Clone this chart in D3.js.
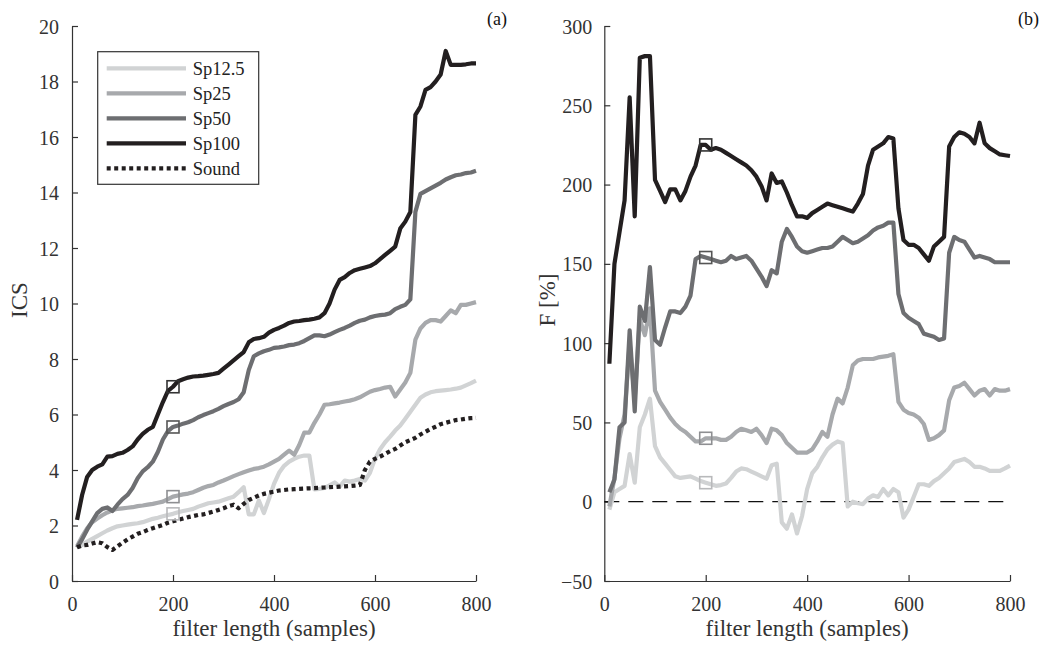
<!DOCTYPE html>
<html><head><meta charset="utf-8">
<script src="https://cdn.jsdelivr.net/npm/d3@7"></script>
<style>body{margin:0;background:#fff}svg{display:block}text{font-family:"Liberation Serif","Times New Roman",serif}</style>
</head><body>
<svg id="chart" width="1047" height="650"></svg>
<script>
const filterLength = [10,20,30,40,50,60,70,80,90,100,110,120,130,140,150,160,170,180,190,200,210,220,230,240,250,260,270,280,290,300,310,320,330,340,350,360,370,380,390,400,410,420,430,440,450,460,470,480,490,500,510,520,530,540,550,560,570,580,590,600,610,620,630,640,650,660,670,680,690,700,710,720,730,740,750,760,770,780,790,800];
const seriesNames = ["Sp12.5","Sp25","Sp50","Sp100","Sound"];
const icsSp125 = [1.2,1.3,1.42,1.52,1.62,1.72,1.82,1.9,1.97,2.0,2.03,2.06,2.08,2.12,2.18,2.24,2.28,2.33,2.38,2.42,2.48,2.52,2.56,2.6,2.68,2.74,2.8,2.83,2.86,2.92,2.98,3.04,3.2,3.38,2.4,2.4,2.9,2.45,2.95,3.5,3.9,4.15,4.3,4.4,4.48,4.52,4.52,3.3,3.32,3.35,3.45,3.55,3.4,3.62,3.58,3.62,3.68,3.62,3.9,4.4,4.75,5.0,5.2,5.42,5.6,5.85,6.1,6.35,6.6,6.72,6.8,6.84,6.86,6.88,6.9,6.93,6.97,7.05,7.13,7.22];
const icsSp25 = [1.25,1.6,1.9,2.12,2.25,2.37,2.47,2.55,2.6,2.62,2.64,2.66,2.7,2.72,2.75,2.78,2.82,2.86,2.95,3.04,3.08,3.12,3.15,3.2,3.28,3.36,3.42,3.46,3.55,3.62,3.7,3.78,3.85,3.92,3.98,4.04,4.07,4.12,4.2,4.3,4.4,4.55,4.7,4.55,4.9,5.35,5.35,5.7,6.0,6.35,6.37,6.4,6.43,6.47,6.5,6.55,6.62,6.72,6.82,6.88,6.92,6.97,7.0,6.65,6.9,7.15,7.5,8.7,9.1,9.3,9.4,9.4,9.35,9.55,9.75,9.65,9.95,9.95,10.0,10.05];
const icsSp50 = [1.2,1.5,1.85,2.15,2.45,2.6,2.65,2.52,2.75,2.95,3.1,3.35,3.7,3.95,4.1,4.3,4.65,5.1,5.4,5.55,5.6,5.67,5.72,5.8,5.9,5.98,6.05,6.12,6.2,6.3,6.38,6.45,6.55,6.8,7.6,8.1,8.2,8.28,8.33,8.4,8.42,8.45,8.5,8.52,8.57,8.65,8.75,8.85,8.85,8.82,8.88,8.97,9.05,9.12,9.2,9.3,9.38,9.42,9.5,9.55,9.58,9.6,9.65,9.8,9.88,9.95,10.15,13.3,13.95,14.05,14.15,14.25,14.35,14.47,14.55,14.62,14.65,14.7,14.72,14.78];
const icsSp100 = [2.2,3.1,3.75,4.0,4.12,4.2,4.48,4.5,4.58,4.62,4.72,4.85,5.1,5.3,5.45,5.55,6.0,6.45,6.85,7.0,7.2,7.27,7.33,7.37,7.38,7.4,7.43,7.46,7.5,7.65,7.8,7.95,8.1,8.25,8.6,8.72,8.75,8.8,8.95,9.05,9.12,9.2,9.3,9.35,9.37,9.4,9.42,9.45,9.5,9.65,10.0,10.5,10.85,10.95,11.1,11.2,11.25,11.3,11.35,11.45,11.6,11.75,11.9,12.05,12.7,12.95,13.3,16.8,17.1,17.7,17.8,18.0,18.25,19.1,18.6,18.6,18.6,18.62,18.65,18.65];
const icsSound = [1.22,1.28,1.3,1.35,1.4,1.36,1.22,1.12,1.25,1.38,1.5,1.6,1.7,1.76,1.84,1.9,1.96,2.02,2.1,2.15,2.2,2.25,2.3,2.34,2.38,2.4,2.45,2.5,2.56,2.62,2.7,2.75,2.62,2.78,2.92,3.0,3.08,3.14,3.18,3.22,3.26,3.28,3.3,3.31,3.32,3.33,3.34,3.35,3.36,3.37,3.38,3.39,3.4,3.41,3.42,3.44,3.46,4.0,4.3,4.4,4.48,4.58,4.68,4.76,4.88,5.0,5.08,5.16,5.28,5.38,5.48,5.56,5.65,5.7,5.75,5.8,5.82,5.85,5.87,5.88];
const fSp125 = [-5,6,8,10,30,12,47,55,65,35,28,24,20,16,15,15.5,16,14.5,13,12,11,10,10.5,11.5,15,19,21,20.5,19,17.5,16,14.5,23,24,-13,-17,-8,-20,-9,8,18,22,28,33,36,38,37,-3,0,-1,-1.5,2,4,3,8,4,8,6,-10,-5,3,11,11,10,13,15,18,21,25,26,27,25,22,22,21,19.5,19.5,19.5,21,22.7];
const fSp25 = [-3,15,40,55,100,65,115,105,122,70,63,58,53,49,46,44,41,38,38,40,40,40,39,39,41,44,46,45,44,46,42,37,46,45,42,37,34,31,31,31,33,38,44,41,55,65,62,72,86,89,90,90,90,91,91.5,92,93,63,58,56,55,53,49,39,40,42,45,64,72,73,75,71,67,70,71,67,71,70,70,71];
const fSp50 = [6,14,47,50,108,57,123,114,148,102,99,110,120,120,119,123,130,153,155,154,153,152,151,152,155,153,154,155,152,147,142,136,146,144,164,172,167,161,158,157,158,159,160,160,161,164,167,165,163,164,166,168,171,173,174,176,176,131,119,116,114,112,106,105,104,102,103,157,167,165,164,159,154,155,154,153,151,151,151,151];
const fSp100 = [87,150,170,190,255,180,280,281,281,203,196,189,197,197,190,196,205,212,225,225,222,223,222,220,218,216,214,212,209,205,199,190,207,201,202,195,187,180,180,179,182,184,186,188,187,186,185,184,183,188,194,212,222,224,226,230,229,185,165,162,162,160,156,152,161,164,167,224,230,233,232,230,226,239,226,223,221,219,218.5,218];
const xTicks = [0,200,400,600,800];
const icsTicks = [0,2,4,6,8,10,12,14,16,18,20];
const fTicks = [-50,0,50,100,150,200,250,300];
const markerAt = 200;

const colors = {"Sp12.5":"#d1d3d4","Sp25":"#a7a9ac","Sp50":"#6d6e71","Sp100":"#231f20","Sound":"#231f20"};
const svg = d3.select("#chart");
const axisColor = "#333";

function panel(opts){
  const x = d3.scaleLinear().domain([0,800]).range(opts.xr);
  const y = d3.scaleLinear().domain(opts.yd).range([581,26]);
  const g = svg.append("g");
  const ax = g.append("g").attr("transform","translate(0,581)")
    .call(d3.axisBottom(x).tickValues(xTicks).tickSizeInner(-6).tickSizeOuter(0).tickPadding(16));
  const ay = g.append("g").attr("transform",`translate(${opts.xr[0]},0)`)
    .call(d3.axisLeft(y).tickValues(opts.ticks).tickSizeInner(-6).tickSizeOuter(0).tickPadding(opts.pad));
  [ax,ay].forEach(a=>{
    a.attr("font-family",null);
    a.select(".domain").attr("stroke",axisColor).attr("stroke-width",1.2);
    a.selectAll(".tick line").attr("stroke",axisColor).attr("stroke-width",1.2);
    a.selectAll("text").attr("fill","#333").style("font-size","20px").style("font-family","'Liberation Serif', serif");
  });
  ay.selectAll("text").attr("dy","0.35em");
  if(opts.zero){
    g.append("line").attr("x1",x(0)).attr("x2",x(800)).attr("y1",y(0)).attr("y2",y(0))
      .attr("stroke","#111").attr("stroke-width",1.2).attr("stroke-dasharray","15,9");
  }
  const line = d3.line().x((d,i)=>x(filterLength[i])).y(d=>y(d));
  opts.series.forEach(s=>{
    const p = g.append("path").datum(s.vals).attr("d",line).attr("fill","none")
      .attr("stroke",colors[s.name]).attr("stroke-width",4.2).attr("stroke-linejoin","round");
    if(s.name==="Sound") p.attr("stroke-dasharray","4,3.5");
  });
  const mi = filterLength.indexOf(markerAt);
  const markerStroke = {"Sp12.5":"#b8b9bb","Sp25":"#8e8f92","Sp50":"#555","Sp100":"#333"};
  opts.series.filter(s=>s.name!=="Sound").forEach(s=>{
    g.append("rect").attr("x",x(markerAt)-6).attr("y",y(s.vals[mi])-6).attr("width",12).attr("height",12)
      .attr("fill","none").attr("stroke",markerStroke[s.name]).attr("stroke-width",1.6);
  });
  g.append("text").attr("x",(opts.xr[0]+opts.xr[1])/2).attr("y",636).attr("text-anchor","middle")
    .style("font-size","23px").attr("fill","#333").text("filter length (samples)");
  g.append("text").attr("transform",`translate(${opts.ylx},300) rotate(-90)`).attr("text-anchor","middle")
    .style("font-size","23px").attr("fill","#333").text(opts.ylabel);
  g.append("text").attr("x",opts.tagx).attr("y",25).style("font-size","18px").attr("fill","#111").text(opts.tag);
  return {x,y,g};
}

panel({xr:[72,476], yd:[0,20], ticks:icsTicks, pad:13, ylx:27, ylabel:"ICS", tag:"(a)", tagx:487,
  series:[{name:"Sp12.5",vals:icsSp125},{name:"Sp25",vals:icsSp25},{name:"Sp50",vals:icsSp50},{name:"Sp100",vals:icsSp100},{name:"Sound",vals:icsSound}]});
panel({xr:[604.3,1010], yd:[-50,300], ticks:fTicks, pad:12, ylx:555, ylabel:"F [%]", tag:"(b)", tagx:1018, zero:true,
  series:[{name:"Sp12.5",vals:fSp125},{name:"Sp25",vals:fSp25},{name:"Sp50",vals:fSp50},{name:"Sp100",vals:fSp100}]});

const lg = svg.append("g");
lg.append("rect").attr("x",97.7).attr("y",51.7).attr("width",161).attr("height",132.6)
  .attr("fill","#fff").attr("stroke","#333").attr("stroke-width",1.2);
seriesNames.forEach((n,i)=>{
  const yy = 68.3 + i*25;
  const l = lg.append("line").attr("x1",106.7).attr("x2",186).attr("y1",yy).attr("y2",yy)
    .attr("stroke",colors[n]).attr("stroke-width",4.2);
  if(n==="Sound") l.attr("stroke-dasharray","4,3.5");
  lg.append("text").attr("x",192.7).attr("y",yy).attr("dy","0.35em").style("font-size","18.5px").attr("fill","#222").text(n);
});
</script>
</body></html>
